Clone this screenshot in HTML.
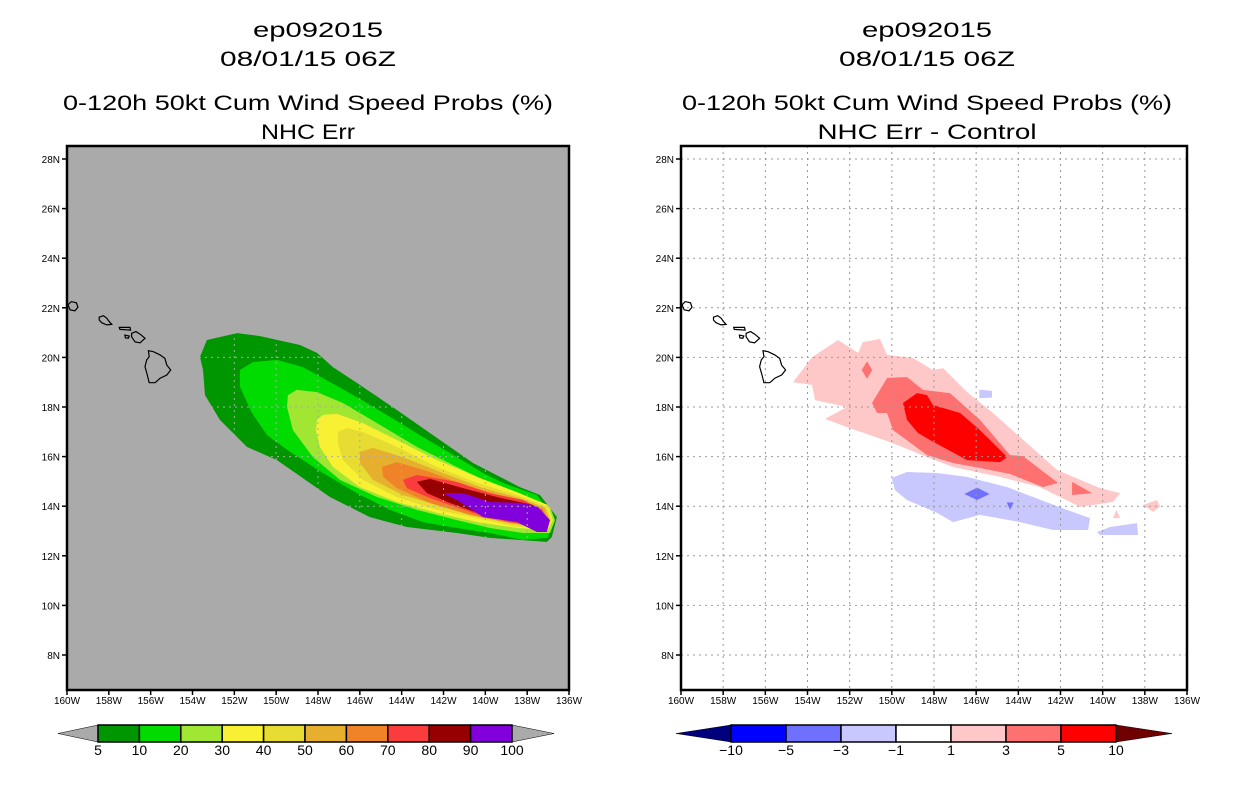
<!DOCTYPE html>
<html><head><meta charset="utf-8"><title>ep092015 wind speed probs</title>
<style>
html,body{margin:0;padding:0;background:#fff;}
svg{display:block;font-family:"Liberation Sans",sans-serif;}
</style></head>
<body>
<svg id="fig" width="1236" height="800" viewBox="0 0 1236 800" xmlns="http://www.w3.org/2000/svg">
<g font-size="21" text-anchor="middle" fill="#000">
<text x="318" y="37" textLength="130" lengthAdjust="spacingAndGlyphs">ep092015</text>
<text x="308" y="66" textLength="176" lengthAdjust="spacingAndGlyphs">08/01/15 06Z</text>
<text x="308" y="110" textLength="490" lengthAdjust="spacingAndGlyphs">0-120h 50kt Cum Wind Speed Probs (%)</text>
<text x="308" y="139" textLength="94" lengthAdjust="spacingAndGlyphs">NHC Err</text>
</g>
<g font-size="21" text-anchor="middle" fill="#000">
<text x="927" y="37" textLength="130" lengthAdjust="spacingAndGlyphs">ep092015</text>
<text x="927" y="66" textLength="176" lengthAdjust="spacingAndGlyphs">08/01/15 06Z</text>
<text x="927" y="110" textLength="490" lengthAdjust="spacingAndGlyphs">0-120h 50kt Cum Wind Speed Probs (%)</text>
<text x="927" y="139" textLength="219" lengthAdjust="spacingAndGlyphs">NHC Err - Control</text>
</g>
<g id="left"></g>
<g id="right"></g>
<g id="cbars"></g>
</svg>
<script>
// ---- data ----
const lonTicks=[-160,-158,-156,-154,-152,-150,-148,-146,-144,-142,-140,-138,-136];
const latTicks=[8,10,12,14,16,18,20,22,24,26,28];
const probLevels=[5,10,20,30,40,50,60,70,80,90,100];
const probColors=["#009600","#00dc00","#a0e632","#f8f032","#e6dc32","#e6af2d","#f08228","#fa3c3c","#960000","#8200dc"];
const diffLevels=[-10,-5,-3,-1,1,3,5,10];
const diffColors=["#0000ff","#7070ff","#c8c8ff","#ffffff","#ffc8c8","#ff7070","#ff0000"];
const prob5=[[-153.64,20.02],[-153.31,20.70],[-151.87,20.98],[-150.77,20.86],[-148.86,20.50],[-148.05,20.18],[-147.29,19.61],[-146.14,18.97],[-144.23,17.88],[-142.65,16.95],[-140.59,15.74],[-139.30,15.18],[-138.35,14.77],[-137.39,14.45],[-136.58,13.56],[-136.82,12.76],[-137.06,12.56],[-139.78,12.72],[-141.36,12.92],[-143.75,13.16],[-145.52,13.56],[-147.43,14.37],[-149.96,15.86],[-151.40,16.39],[-152.69,17.48],[-153.40,18.48],[-153.50,19.49]];
const prob10=[[-151.73,19.49],[-151.11,19.81],[-149.96,19.90],[-148.72,19.61],[-147.43,19.01],[-146.14,18.40],[-144.56,17.60],[-142.98,16.79],[-141.36,15.98],[-140.11,15.34],[-139.16,14.94],[-137.53,14.45],[-136.77,13.56],[-137.01,12.72],[-138.20,12.64],[-139.78,12.92],[-141.36,13.12],[-142.98,13.36],[-144.56,13.85],[-146.14,14.53],[-147.76,15.34],[-149.34,16.19],[-150.44,16.87],[-151.16,17.76],[-151.73,18.81]];
const prob20=[[-149.44,18.48],[-149.01,18.69],[-148.05,18.60],[-146.81,18.16],[-145.18,17.35],[-143.27,16.39],[-141.36,15.58],[-139.78,14.94],[-138.20,14.45],[-136.91,13.97],[-136.67,13.44],[-136.91,12.92],[-138.20,12.92],[-139.78,13.12],[-141.36,13.44],[-143.27,13.85],[-145.18,14.37],[-146.95,15.06],[-148.24,15.98],[-149.20,17.07],[-149.48,18.00]];
const prob30=[[-148.05,17.48],[-147.76,17.68],[-147.09,17.72],[-145.85,17.35],[-144.23,16.67],[-142.31,15.86],[-140.40,15.18],[-138.49,14.57],[-137.01,14.05],[-136.77,13.44],[-137.01,13.04],[-138.49,13.12],[-140.40,13.36],[-142.31,13.73],[-144.23,14.17],[-146.00,14.77],[-147.29,15.58],[-147.91,16.39],[-148.10,17.07]];
const prob40=[[-147.05,16.99],[-146.62,17.15],[-145.85,16.99],[-144.23,16.39],[-142.31,15.58],[-140.40,14.94],[-138.49,14.45],[-137.06,13.97],[-136.82,13.44],[-137.06,13.12],[-138.49,13.16],[-140.40,13.52],[-142.31,13.85],[-144.23,14.37],[-145.85,15.06],[-146.81,15.86],[-147.05,16.55]];
const prob50=[[-145.99,16.19],[-145.37,16.35],[-143.94,15.98],[-142.03,15.34],[-140.11,14.73],[-138.35,14.33],[-137.15,13.93],[-136.91,13.44],[-137.15,13.16],[-138.35,13.24],[-140.11,13.56],[-142.03,13.97],[-143.94,14.45],[-145.37,15.06],[-145.99,15.74]];
const prob60=[[-144.94,15.58],[-144.23,15.78],[-142.65,15.38],[-140.74,14.77],[-138.82,14.33],[-137.25,13.89],[-137.01,13.44],[-137.25,13.20],[-138.82,13.32],[-140.74,13.65],[-142.65,14.13],[-144.23,14.73],[-144.89,15.18]];
const prob70=[[-143.94,15.06],[-143.27,15.26],[-141.36,14.98],[-139.78,14.53],[-138.20,14.25],[-137.29,13.85],[-137.06,13.44],[-137.29,13.24],[-138.82,13.36],[-140.59,13.73],[-142.65,14.33],[-143.75,14.73]];
const prob80=[[-143.27,14.98],[-142.65,15.10],[-141.07,14.73],[-139.45,14.37],[-137.72,14.05],[-137.15,13.56],[-137.25,13.32],[-138.49,13.44],[-140.11,13.65],[-141.69,14.13],[-142.79,14.53]];
const prob90=[[-142.03,14.53],[-141.07,14.53],[-139.78,14.17],[-138.20,14.13],[-137.49,13.97],[-136.91,13.44],[-137.06,12.96],[-137.53,12.96],[-138.49,13.36],[-140.11,13.56],[-141.36,14.25]];
const diffPos1=[[-154.69,19.00],[-153.79,20.00],[-152.55,20.70],[-151.60,20.18],[-151.37,20.62],[-150.56,20.74],[-150.23,20.10],[-149.00,19.98],[-148.05,19.49],[-147.57,19.57],[-146.43,18.60],[-145.20,17.76],[-143.92,16.79],[-142.16,15.46],[-140.12,14.73],[-139.17,14.53],[-139.51,14.17],[-141.07,13.97],[-142.97,14.77],[-144.87,15.18],[-147.10,15.58],[-148.33,15.98],[-150.09,16.59],[-152.13,17.19],[-153.17,17.52],[-152.13,18.00],[-153.64,18.28],[-153.79,18.89]];
const diffPos1b=[[-138.08,14.05],[-137.42,14.25],[-137.28,13.97],[-137.61,13.77]];
const diffPos1c=[[-139.51,13.52],[-139.36,13.85],[-139.17,13.52]];
const diffPos3=[[-150.94,18.16],[-150.23,19.17],[-149.28,19.21],[-148.52,18.69],[-147.24,18.56],[-145.82,17.48],[-144.39,16.06],[-143.78,16.02],[-142.12,14.94],[-142.83,14.77],[-144.39,15.30],[-145.82,15.54],[-147.10,15.74],[-148.33,16.06],[-149.94,17.07],[-150.23,17.76],[-150.70,17.76]];
const diffPos3b=[[-151.18,19.84],[-150.93,19.49],[-151.18,19.14],[-151.43,19.49]];
const diffPos3c=[[-141.45,14.98],[-140.50,14.53],[-141.45,14.45]];
const diffPos5=[[-149.47,18.16],[-148.80,18.56],[-148.33,18.48],[-148.05,18.08],[-146.76,17.76],[-145.82,17.07],[-144.53,15.98],[-144.87,15.78],[-146.43,15.86],[-148.19,16.67],[-148.76,16.95],[-149.28,17.48]];
const diffNeg1=[[-150.00,15.14],[-149.28,15.38],[-147.86,15.34],[-146.43,15.18],[-144.53,14.77],[-143.30,14.37],[-141.69,13.85],[-140.60,13.52],[-140.69,13.04],[-142.35,13.04],[-143.92,13.36],[-145.82,13.65],[-147.10,13.36],[-147.86,13.73],[-149.28,14.25],[-149.85,14.65]];
const diffNeg1b=[[-140.27,12.96],[-139.65,13.16],[-138.37,13.32],[-138.32,12.84],[-140.12,12.84]];
const diffNeg1c=[[-145.85,18.70],[-145.25,18.65],[-145.25,18.38],[-145.85,18.36]];
const diffNeg3=[[-146.56,14.49],[-145.96,14.75],[-145.36,14.49],[-145.96,14.25]];
const diffNeg3b=[[-144.55,14.15],[-144.23,14.15],[-144.39,13.85]];
const kauai=[[-159.95,22.12],[-159.80,22.25],[-159.55,22.20],[-159.48,22.02],[-159.62,21.88],[-159.85,21.92]];
const oahu=[[-158.46,21.62],[-158.26,21.68],[-158.10,21.58],[-157.98,21.44],[-157.86,21.33],[-158.10,21.31],[-158.34,21.40],[-158.46,21.51]];
const molokai=[[-157.50,21.21],[-156.99,21.21],[-156.96,21.10],[-157.47,21.13]];
const maui=[[-156.91,20.97],[-156.70,21.04],[-156.51,20.94],[-156.27,20.77],[-156.51,20.59],[-156.75,20.63],[-156.91,20.83]];
const lanai=[[-157.23,20.90],[-157.02,20.86],[-157.07,20.77],[-157.21,20.79]];
const bigIsland=[[-156.11,20.27],[-155.87,20.23],[-155.55,20.10],[-155.32,19.96],[-155.23,19.69],[-155.04,19.49],[-155.23,19.29],[-155.55,19.16],[-155.79,18.98],[-156.07,18.98],[-156.16,19.29],[-156.27,19.63],[-156.19,19.90],[-156.07,20.03]];

// ---- layout ----
const NS="http://www.w3.org/2000/svg";
const panels={left:{x0:67,x1:569},right:{x0:681,x1:1187}};
const yTop=146,yBot=690;
function xScale(p,lon){const P=panels[p];return P.x0+(lon+160)/24*(P.x1-P.x0);}
function yScale(lat){return 159+(28-lat)*24.8;}
function mk(tag,attrs,parent){const e=document.createElementNS(NS,tag);for(const k in attrs)e.setAttribute(k,attrs[k]);parent.appendChild(e);return e;}
function poly(p,pts,fill,parent,name){
  const e=mk('polygon',{points:pts.map(d=>xScale(p,d[0]).toFixed(1)+','+yScale(d[1]).toFixed(1)).join(' '),fill:fill},parent);
  
  
  return e;
}
function grid(p,g,color){
  lonTicks.slice(1,-1).forEach(l=>{const x=xScale(p,l);const e=mk('line',{x1:x,x2:x,y1:yTop,y2:yBot,stroke:color,'stroke-width':1,'stroke-dasharray':'2,4'},g);
    
    });
  latTicks.forEach(l=>{const y=yScale(l);const e=mk('line',{x1:panels[p].x0,x2:panels[p].x1,y1:y,y2:y,stroke:color,'stroke-width':1,'stroke-dasharray':'2,4'},g);
    
    });
}
function islands(p,g){
  [kauai,oahu,molokai,maui,lanai,bigIsland].forEach(pts=>{
    const e=mk('polygon',{points:pts.map(d=>xScale(p,d[0]).toFixed(1)+','+yScale(d[1]).toFixed(1)).join(' '),fill:'none',stroke:'#000','stroke-width':1.2},g);
    
    
  });
}
function axes(p,g){
  const P=panels[p];
  const b=mk('rect',{x:P.x0,y:yTop,width:P.x1-P.x0,height:yBot-yTop,fill:'none',stroke:'#000','stroke-width':2.5},g);
  
  
  latTicks.forEach(l=>{const y=yScale(l);
    mk('line',{x1:P.x0-5,x2:P.x0,y1:y,y2:y,stroke:'#000','stroke-width':1.5},g);
    const t=mk('text',{x:P.x0-7,y:y+4,'font-size':10,'text-anchor':'end'},g);t.textContent=l+'N';
    
    });
  lonTicks.forEach(l=>{const x=xScale(p,l);
    mk('line',{x1:x,x2:x,y1:yBot,y2:yBot+5,stroke:'#000','stroke-width':1.5},g);
    const t=mk('text',{x:x,y:yBot+14,'font-size':10,'text-anchor':'middle'},g);t.textContent=(-l)+'W';
    
    });
}
// left panel
const L=document.getElementById('left');
const bg=mk('rect',{x:67,y:yTop,width:502,height:yBot-yTop,fill:'#aaaaaa'},L);


[prob5,prob10,prob20,prob30,prob40,prob50,prob60,prob70,prob80,prob90].forEach((c,i)=>poly('left',c,probColors[i],L,'prob-contour-'+probLevels[i]));
grid('left',L,'#aaaaaa');
islands('left',L);
axes('left',L);
// right panel
const R=document.getElementById('right');
[[diffPos1,4],[diffPos1b,4],[diffPos1c,4],[diffPos3,5],[diffPos3b,5],[diffPos3c,5],[diffPos5,6],[diffNeg1,2],[diffNeg1b,2],[diffNeg1c,2],[diffNeg3,1],[diffNeg3b,1]].forEach(d=>poly('right',d[0],diffColors[d[1]],R,'diff-contour'));
grid('right',R,'#999999');
islands('right',R);
axes('right',R);
// colorbars
const C=document.getElementById('cbars');
function cbar(x0,x1,yt,yb,tipL,tipR,colors,labels,leftTip,rightTip,name){
  const g=mk('g',{},C);
  
  
  const n=colors.length,w=(x1-x0)/n,ym=(yt+yb)/2;
  mk('polygon',{points:`${tipL},${ym} ${x0},${yt} ${x0},${yb}`,fill:leftTip,stroke:'#000','stroke-width':0.5},g);
  mk('polygon',{points:`${tipR},${ym} ${x1},${yt} ${x1},${yb}`,fill:rightTip,stroke:'#000','stroke-width':0.5},g);
  colors.forEach((c,i)=>{const r=mk('rect',{x:x0+i*w,y:yt,width:w,height:yb-yt,fill:c,stroke:'#000','stroke-width':1.5},g);
    
    });
  labels.forEach((l,i)=>{const t=mk('text',{x:x0+i*w,y:yb+13,'font-size':14,'text-anchor':'middle'},g);t.textContent=l<0?'\u2212'+(-l):String(l);
    
    });
}
cbar(98,512,725,742,58,554,probColors,probLevels,'#aaaaaa','#aaaaaa','prob-colorbar');
cbar(731,1116,725,742,676,1172,diffColors,diffLevels,'#00007f','#700000','diff-colorbar');
</script>
</body></html>
